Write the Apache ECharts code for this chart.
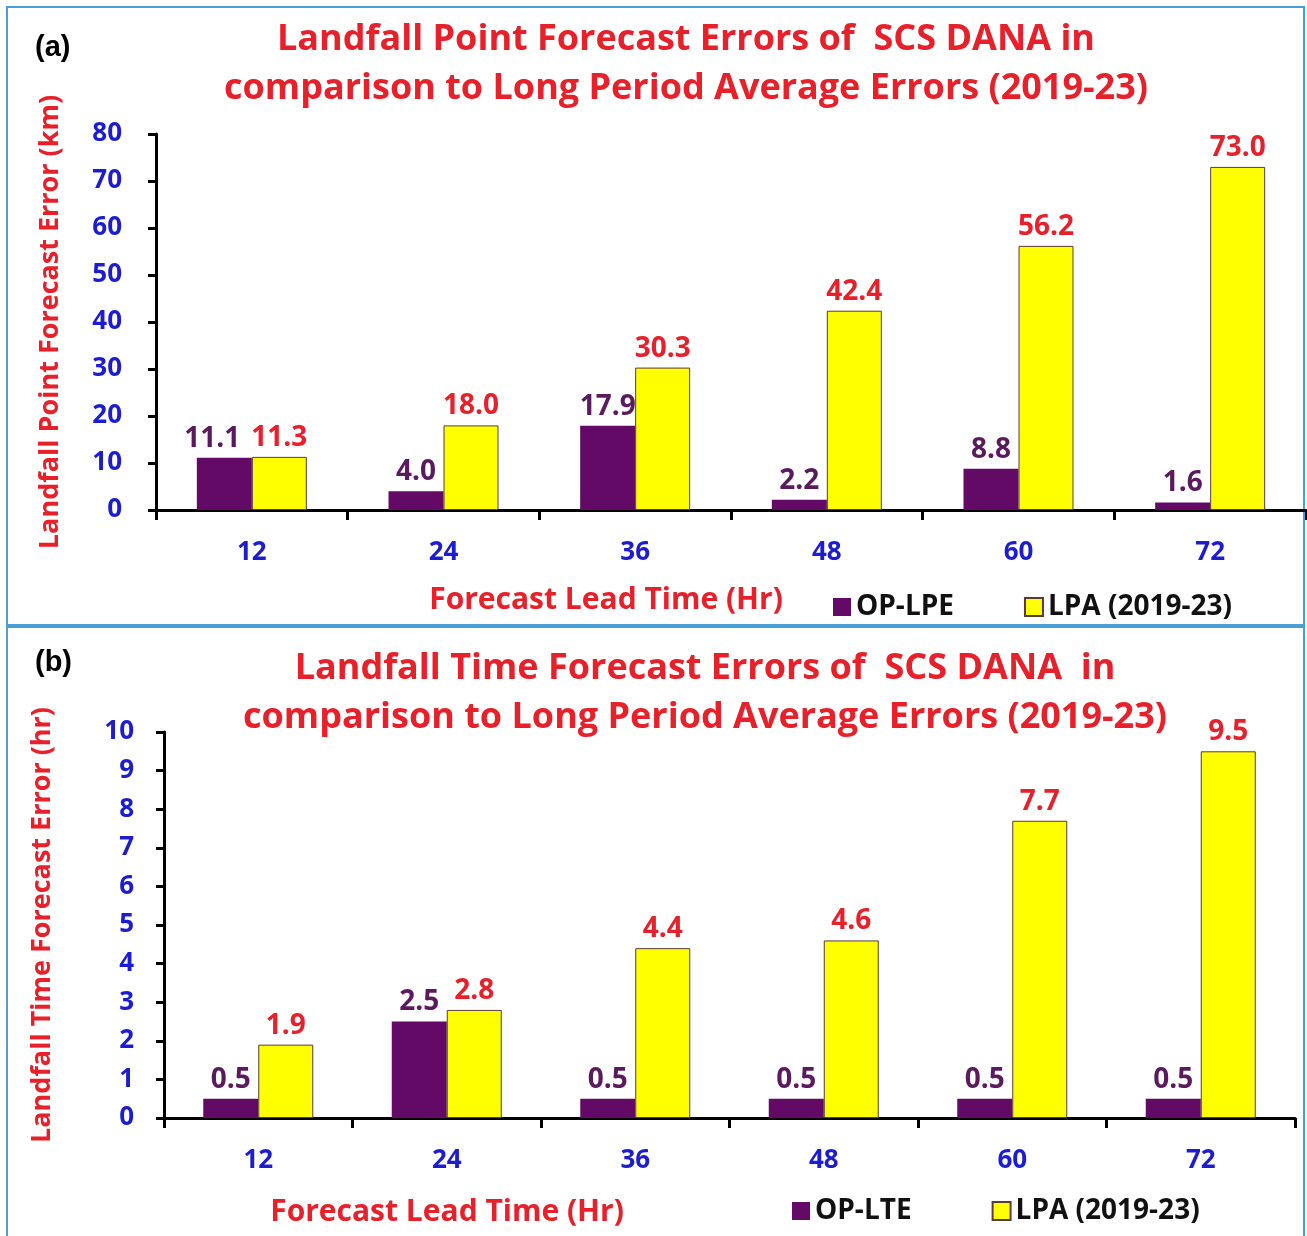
<!DOCTYPE html>
<html>
<head>
<meta charset="utf-8">
<script src="https://cdn.jsdelivr.net/npm/echarts@6/dist/echarts.min.js"></script>
<style>
  html, body { margin: 0; padding: 0; background: #fff; }
  #chartsbox { width: 1307px; height: 1236px; }
</style>
</head>
<body>
<div id="chartsbox"></div>
<script type="text/javascript">
    // 数据
    var leadTimes = ['12', '24', '36', '48', '60', '72'];
    var opLpe = [11.1, 4.0, 17.9, 2.2, 8.8, 1.6];
    var lpaPoint = [11.3, 18.0, 30.3, 42.4, 56.2, 73.0];
    var opLte = [0.5, 2.5, 0.5, 0.5, 0.5, 0.5];
    var lpaTime = [1.9, 2.8, 4.4, 4.6, 7.7, 9.5];

    var FONT = 'Open Sans';
    var RED = '#e8202a';
    var BLUE = '#1c1cd0';
    var PURPLE = '#620a66';
    var PURPLE_TXT = '#5c1a5e';

    // shiftFirst: 第一个标签左移，避免与旁边的标签重叠
    function barSeries(name, data, idx, isLpa, shiftFirst) {
        var items = data.map(function (v, i) {
            if (shiftFirst && i === 0) {
                return { value: v, label: { offset: [-12, 0] } };
            }
            return v;
        });
        return {
            name: name,
            type: 'bar',
            xAxisIndex: idx,
            yAxisIndex: idx,
            barWidth: 55,
            barGap: '0%',
            data: items,
            itemStyle: isLpa
                ? { color: '#ffff00', borderColor: '#5a3a3a', borderWidth: 1 }
                : { color: PURPLE },
            label: {
                show: true,
                position: 'top',
                distance: 5,
                fontFamily: FONT,
                fontWeight: 'bold',
                fontSize: 28,
                color: isLpa ? RED : PURPLE_TXT,
                formatter: function (p) { return p.value.toFixed(1); }
            }
        };
    }

    function xAxisOf(idx) {
        return {
            type: 'category',
            gridIndex: idx,
            data: leadTimes,
            axisLine: { lineStyle: { color: '#000', width: 3 } },
            axisTick: { show: true, length: 10, lineStyle: { color: '#000', width: 3 } },
            axisLabel: { margin: 30, fontFamily: FONT, fontWeight: 'bold', fontSize: 26, color: BLUE }
        };
    }

    function yAxisOf(idx, max, name, gap, margin) {
        return {
            type: 'value',
            gridIndex: idx,
            min: 0,
            max: max,
            interval: max / 8 === 10 ? 10 : 1,
            name: name,
            nameLocation: 'middle',
            nameGap: gap,
            nameTextStyle: { fontFamily: FONT, fontWeight: 'bold', fontSize: 27, color: RED },
            splitLine: { show: false },
            axisLine: { show: true, lineStyle: { color: '#000', width: 3 } },
            axisTick: { show: true, length: 8, lineStyle: { color: '#000', width: 3 } },
            axisLabel: { margin: margin, fontFamily: FONT, fontWeight: 'bold', fontSize: 26, color: BLUE }
        };
    }

    function titleText(text, left, top) {
        return {
            text: text, left: left, top: top, textAlign: 'center',
            textStyle: { fontFamily: FONT, fontWeight: 'bold', fontSize: 36, color: RED, lineHeight: 49 }
        };
    }

    var legendText = { fontFamily: FONT, fontWeight: 'bold', fontSize: 28, color: '#111' };
    var axisNameStyle = { fill: RED, fontFamily: FONT, fontWeight: 'bold', fontSize: 30, align: 'center', verticalAlign: 'middle' };

    var myChart = echarts.init(document.getElementById('chartsbox'));
    var option = {
        backgroundColor: '#fff',
        animation: false,
        title: [
            titleText('Landfall Point Forecast Errors of  SCS DANA in\ncomparison to Long Period Average Errors (2019-23)', 681, 10),
            titleText('Landfall Time Forecast Errors of  SCS DANA  in\ncomparison to Long Period Average Errors (2019-23)', 700, 639),
            { text: '(a)', left: 30, top: 28, textStyle: { fontFamily: 'Liberation Sans', fontWeight: 'bold', fontSize: 29, color: '#000' } },
            { text: '(b)', left: 30, top: 643, textStyle: { fontFamily: 'Liberation Sans', fontWeight: 'bold', fontSize: 29, color: '#000' } }
        ],
        legend: [
            {
                data: ['OP-LPE', 'LPA (2019-23)'],
                left: 828, top: 588, itemWidth: 18, itemHeight: 18, itemGap: 70,
                icon: 'rect',
                textStyle: legendText
            },
            {
                data: ['OP-LTE', 'LPA (2019-23 )'],
                left: 787, top: 1192, itemWidth: 18, itemHeight: 18, itemGap: 80,
                icon: 'rect',
                formatter: function (n) { return n.replace(' )', ')'); },
                textStyle: legendText
            }
        ],
        grid: [
            { left: 156, top: 134, width: 1150, height: 376, outerBoundsMode: 'none' },
            { left: 164, top: 732, width: 1131, height: 386, outerBoundsMode: 'none' }
        ],
        xAxis: [xAxisOf(0), xAxisOf(1)],
        yAxis: [
            yAxisOf(0, 80, 'Landfall Point Forecast Error (km)', 92, 34),
            yAxisOf(1, 10, 'Landfall Time Forecast Error (hr)', 108, 30)
        ],
        series: [
            barSeries('OP-LPE', opLpe, 0, false, true),
            barSeries('LPA (2019-23)', lpaPoint, 0, true, false),
            barSeries('OP-LTE', opLte, 1, false, false),
            barSeries('LPA (2019-23 )', lpaTime, 1, true, false)
        ],
        graphic: [
            { type: 'rect', shape: { x: 7, y: 7, width: 1297, height: 618 }, style: { fill: 'none', stroke: '#4a9fd8', lineWidth: 2 }, silent: true },
            { type: 'rect', shape: { x: 7, y: 627, width: 1297, height: 612 }, style: { fill: 'none', stroke: '#4a9fd8', lineWidth: 2 }, silent: true },
            { type: 'text', x: 606, y: 600, style: Object.assign({ text: 'Forecast Lead Time (Hr)' }, axisNameStyle) },
            { type: 'text', x: 447, y: 1212, style: Object.assign({ text: 'Forecast Lead Time (Hr)' }, axisNameStyle) }
        ]
    };
    myChart.setOption(option);
</script>
</body>
</html>
